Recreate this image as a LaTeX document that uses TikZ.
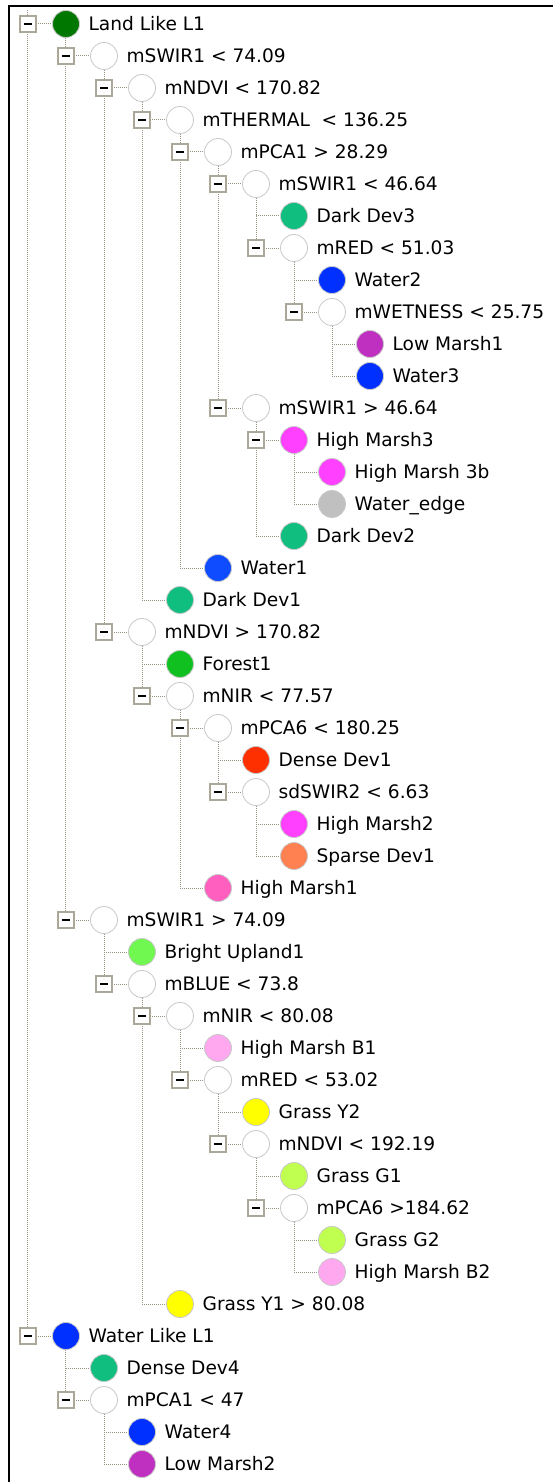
\documentclass[tikz,border=0pt]{standalone}
\usepackage{fontspec}
\setmainfont{DejaVu Sans}
\usepackage{tikz}
\usetikzlibrary{positioning,backgrounds}
\definecolor{landgreen}{RGB}{0,120,0}
\definecolor{devteal}{RGB}{16,190,128}
\definecolor{waterblue}{RGB}{0,48,255}
\definecolor{waterbright}{RGB}{16,76,255}
\definecolor{marshpurple}{RGB}{192,48,192}
\definecolor{marshmagenta}{RGB}{255,64,255}
\definecolor{edgegray}{RGB}{192,192,192}
\definecolor{forestgreen}{RGB}{16,192,32}
\definecolor{denseorange}{RGB}{255,48,0}
\definecolor{sparsecoral}{RGB}{255,128,80}
\definecolor{marshpink}{RGB}{255,96,192}
\definecolor{uplandgreen}{RGB}{112,248,80}
\definecolor{marshlight}{RGB}{255,168,240}
\definecolor{grassyellow}{RGB}{255,255,0}
\definecolor{grassgreen}{RGB}{192,255,80}
\definecolor{treeline}{RGB}{150,146,132}
\definecolor{boxrim}{RGB}{172,168,153}
\definecolor{knotrim}{RGB}{200,200,200}
\tikzstyle{knot}   = [circle, minimum size=27pt, inner sep=0pt, draw=knotrim, line width=0.8pt, fill=white]
\tikzstyle{toggle} = [rectangle, minimum size=16pt, inner sep=0pt, draw=boxrim, line width=1.6pt, fill=white, path picture={\draw[black, line width=2pt] ([xshift=-4pt]path picture bounding box.center) -- ([xshift=4pt]path picture bounding box.center);}]
\tikzstyle{lbl}    = [inner sep=0pt, text height=13.4pt, text depth=0pt, font=\fontsize{18.6}{20}\selectfont]
\tikzstyle{tline}  = [treeline, line width=1pt, dash pattern=on 1pt off 1pt]

\begin{document}
\begin{tikzpicture}[x=38pt, y=-32pt]
	\useasboundingbox (-66pt,24pt) rectangle (487pt,-1458pt);

	% first class: land like
	\node[knot, fill=landgreen] (landlike) at (0,0) {};
	\node[toggle] (landlikeBox) at (-1,0) {};
	\node[lbl, right=8.5pt of landlike] (landlikeText) {Land Like L1};
	\node[knot] (swirA) at (1,1) {};
	\node[toggle] (swirABox) at (0,1) {};
	\node[lbl, right=8.5pt of swirA] (swirAText) {mSWIR1 < 74.09};
	\node[knot] (ndviA) at (2,2) {};
	\node[toggle] (ndviABox) at (1,2) {};
	\node[lbl, right=8.5pt of ndviA] (ndviAText) {mNDVI < 170.82};
	\node[knot] (thermal) at (3,3) {};
	\node[toggle] (thermalBox) at (2,3) {};
	\node[lbl, right=8.5pt of thermal] (thermalText) {mTHERMAL\ \ < 136.25};
	\node[knot] (pcaA) at (4,4) {};
	\node[toggle] (pcaABox) at (3,4) {};
	\node[lbl, right=8.5pt of pcaA] (pcaAText) {mPCA1 > 28.29};
	\node[knot] (swirB) at (5,5) {};
	\node[toggle] (swirBBox) at (4,5) {};
	\node[lbl, right=8.5pt of swirB] (swirBText) {mSWIR1 < 46.64};
	\node[knot, fill=devteal] (darkdevC) at (6,6) {};
	\node[lbl, right=8.5pt of darkdevC] (darkdevCText) {Dark Dev3};
	\node[knot] (redA) at (6,7) {};
	\node[toggle] (redABox) at (5,7) {};
	\node[lbl, right=8.5pt of redA] (redAText) {mRED < 51.03};
	\node[knot, fill=waterblue] (waterB) at (7,8) {};
	\node[lbl, right=8.5pt of waterB] (waterBText) {Water2};
	\node[knot] (wetness) at (7,9) {};
	\node[toggle] (wetnessBox) at (6,9) {};
	\node[lbl, right=8.5pt of wetness] (wetnessText) {mWETNESS < 25.75};
	\node[knot, fill=marshpurple] (lowmarshA) at (8,10) {};
	\node[lbl, right=8.5pt of lowmarshA] (lowmarshAText) {Low Marsh1};
	\node[knot, fill=waterblue] (waterC) at (8,11) {};
	\node[lbl, right=8.5pt of waterC] (waterCText) {Water3};
	\node[knot] (swirC) at (5,12) {};
	\node[toggle] (swirCBox) at (4,12) {};
	\node[lbl, right=8.5pt of swirC] (swirCText) {mSWIR1 > 46.64};
	\node[knot, fill=marshmagenta] (highmarshC) at (6,13) {};
	\node[toggle] (highmarshCBox) at (5,13) {};
	\node[lbl, right=8.5pt of highmarshC] (highmarshCText) {High Marsh3};
	\node[knot, fill=marshmagenta] (highmarshCb) at (7,14) {};
	\node[lbl, right=8.5pt of highmarshCb] (highmarshCbText) {High Marsh 3b};
	\node[knot, fill=edgegray] (wateredge) at (7,15) {};
	\node[lbl, right=8.5pt of wateredge] (wateredgeText) {Water\_edge};
	\node[knot, fill=devteal] (darkdevB) at (6,16) {};
	\node[lbl, right=8.5pt of darkdevB] (darkdevBText) {Dark Dev2};
	\node[knot, fill=waterbright] (waterA) at (4,17) {};
	\node[lbl, right=8.5pt of waterA] (waterAText) {Water1};
	\node[knot, fill=devteal] (darkdevA) at (3,18) {};
	\node[lbl, right=8.5pt of darkdevA] (darkdevAText) {Dark Dev1};
	\node[knot] (ndviB) at (2,19) {};
	\node[toggle] (ndviBBox) at (1,19) {};
	\node[lbl, right=8.5pt of ndviB] (ndviBText) {mNDVI > 170.82};
	\node[knot, fill=forestgreen] (forest) at (3,20) {};
	\node[lbl, right=8.5pt of forest] (forestText) {Forest1};
	\node[knot] (nirA) at (3,21) {};
	\node[toggle] (nirABox) at (2,21) {};
	\node[lbl, right=8.5pt of nirA] (nirAText) {mNIR < 77.57};
	\node[knot] (pcasixA) at (4,22) {};
	\node[toggle] (pcasixABox) at (3,22) {};
	\node[lbl, right=8.5pt of pcasixA] (pcasixAText) {mPCA6 < 180.25};
	\node[knot, fill=denseorange] (densedevA) at (5,23) {};
	\node[lbl, right=8.5pt of densedevA] (densedevAText) {Dense Dev1};
	\node[knot] (sdswir) at (5,24) {};
	\node[toggle] (sdswirBox) at (4,24) {};
	\node[lbl, right=8.5pt of sdswir] (sdswirText) {sdSWIR2 < 6.63};
	\node[knot, fill=marshmagenta] (highmarshB) at (6,25) {};
	\node[lbl, right=8.5pt of highmarshB] (highmarshBText) {High Marsh2};
	\node[knot, fill=sparsecoral] (sparsedev) at (6,26) {};
	\node[lbl, right=8.5pt of sparsedev] (sparsedevText) {Sparse Dev1};
	\node[knot, fill=marshpink] (highmarshA) at (4,27) {};
	\node[lbl, right=8.5pt of highmarshA] (highmarshAText) {High Marsh1};
	\node[knot] (swirD) at (1,28) {};
	\node[toggle] (swirDBox) at (0,28) {};
	\node[lbl, right=8.5pt of swirD] (swirDText) {mSWIR1 > 74.09};
	\node[knot, fill=uplandgreen] (upland) at (2,29) {};
	\node[lbl, right=8.5pt of upland] (uplandText) {Bright Upland1};
	\node[knot] (blue) at (2,30) {};
	\node[toggle] (blueBox) at (1,30) {};
	\node[lbl, right=8.5pt of blue] (blueText) {mBLUE < 73.8};
	\node[knot] (nirB) at (3,31) {};
	\node[toggle] (nirBBox) at (2,31) {};
	\node[lbl, right=8.5pt of nirB] (nirBText) {mNIR < 80.08};
	\node[knot, fill=marshlight] (hmbA) at (4,32) {};
	\node[lbl, right=8.5pt of hmbA] (hmbAText) {High Marsh B1};
	\node[knot] (redB) at (4,33) {};
	\node[toggle] (redBBox) at (3,33) {};
	\node[lbl, right=8.5pt of redB] (redBText) {mRED < 53.02};
	\node[knot, fill=grassyellow] (grassYb) at (5,34) {};
	\node[lbl, right=8.5pt of grassYb] (grassYbText) {Grass Y2};
	\node[knot] (ndviC) at (5,35) {};
	\node[toggle] (ndviCBox) at (4,35) {};
	\node[lbl, right=8.5pt of ndviC] (ndviCText) {mNDVI < 192.19};
	\node[knot, fill=grassgreen] (grassGa) at (6,36) {};
	\node[lbl, right=8.5pt of grassGa] (grassGaText) {Grass G1};
	\node[knot] (pcasixB) at (6,37) {};
	\node[toggle] (pcasixBBox) at (5,37) {};
	\node[lbl, right=8.5pt of pcasixB] (pcasixBText) {mPCA6 >184.62};
	\node[knot, fill=grassgreen] (grassGb) at (7,38) {};
	\node[lbl, right=8.5pt of grassGb] (grassGbText) {Grass G2};
	\node[knot, fill=marshlight] (hmbB) at (7,39) {};
	\node[lbl, right=8.5pt of hmbB] (hmbBText) {High Marsh B2};
	\node[knot, fill=grassyellow] (grassYa) at (3,40) {};
	\node[lbl, right=8.5pt of grassYa] (grassYaText) {Grass Y1 > 80.08};

	% second class: water like
	\node[knot, fill=waterblue] (waterlike) at (0,41) {};
	\node[toggle] (waterlikeBox) at (-1,41) {};
	\node[lbl, right=8.5pt of waterlike] (waterlikeText) {Water Like L1};
	\node[knot, fill=devteal] (densedevB) at (1,42) {};
	\node[lbl, right=8.5pt of densedevB] (densedevBText) {Dense Dev4};
	\node[knot] (pcaB) at (1,43) {};
	\node[toggle] (pcaBBox) at (0,43) {};
	\node[lbl, right=8.5pt of pcaB] (pcaBText) {mPCA1 < 47};
	\node[knot, fill=waterblue] (waterD) at (2,44) {};
	\node[lbl, right=8.5pt of waterD] (waterDText) {Water4};
	\node[knot, fill=marshpurple] (lowmarshB) at (2,45) {};
	\node[lbl, right=8.5pt of lowmarshB] (lowmarshBText) {Low Marsh2};

	\coordinate (treetop) at (-1,-0.45);

	% dotted tree lines behind the knots
	\begin{scope}[on background layer]
		\draw[tline] (treetop) -- (treetop |- waterlike) (landlike -| treetop) -- (landlike) (waterlike -| treetop) -- (waterlike);
		\draw[tline] (landlike) -- (landlike |- swirD) (swirA -| landlike) -- (swirA) (swirD -| landlike) -- (swirD);
		\draw[tline] (swirA) -- (swirA |- ndviB) (ndviA -| swirA) -- (ndviA) (ndviB -| swirA) -- (ndviB);
		\draw[tline] (ndviA) -- (ndviA |- darkdevA) (thermal -| ndviA) -- (thermal) (darkdevA -| ndviA) -- (darkdevA);
		\draw[tline] (thermal) -- (thermal |- waterA) (pcaA -| thermal) -- (pcaA) (waterA -| thermal) -- (waterA);
		\draw[tline] (pcaA) -- (pcaA |- swirC) (swirB -| pcaA) -- (swirB) (swirC -| pcaA) -- (swirC);
		\draw[tline] (swirB) -- (swirB |- redA) (darkdevC -| swirB) -- (darkdevC) (redA -| swirB) -- (redA);
		\draw[tline] (redA) -- (redA |- wetness) (waterB -| redA) -- (waterB) (wetness -| redA) -- (wetness);
		\draw[tline] (wetness) -- (wetness |- waterC) (lowmarshA -| wetness) -- (lowmarshA) (waterC -| wetness) -- (waterC);
		\draw[tline] (swirC) -- (swirC |- darkdevB) (highmarshC -| swirC) -- (highmarshC) (darkdevB -| swirC) -- (darkdevB);
		\draw[tline] (highmarshC) -- (highmarshC |- wateredge) (highmarshCb -| highmarshC) -- (highmarshCb) (wateredge -| highmarshC) -- (wateredge);
		\draw[tline] (ndviB) -- (ndviB |- nirA) (forest -| ndviB) -- (forest) (nirA -| ndviB) -- (nirA);
		\draw[tline] (nirA) -- (nirA |- highmarshA) (pcasixA -| nirA) -- (pcasixA) (highmarshA -| nirA) -- (highmarshA);
		\draw[tline] (pcasixA) -- (pcasixA |- sdswir) (densedevA -| pcasixA) -- (densedevA) (sdswir -| pcasixA) -- (sdswir);
		\draw[tline] (sdswir) -- (sdswir |- sparsedev) (highmarshB -| sdswir) -- (highmarshB) (sparsedev -| sdswir) -- (sparsedev);
		\draw[tline] (swirD) -- (swirD |- blue) (upland -| swirD) -- (upland) (blue -| swirD) -- (blue);
		\draw[tline] (blue) -- (blue |- grassYa) (nirB -| blue) -- (nirB) (grassYa -| blue) -- (grassYa);
		\draw[tline] (nirB) -- (nirB |- redB) (hmbA -| nirB) -- (hmbA) (redB -| nirB) -- (redB);
		\draw[tline] (redB) -- (redB |- ndviC) (grassYb -| redB) -- (grassYb) (ndviC -| redB) -- (ndviC);
		\draw[tline] (ndviC) -- (ndviC |- pcasixB) (grassGa -| ndviC) -- (grassGa) (pcasixB -| ndviC) -- (pcasixB);
		\draw[tline] (pcasixB) -- (pcasixB |- hmbB) (grassGb -| pcasixB) -- (grassGb) (hmbB -| pcasixB) -- (hmbB);
		\draw[tline] (waterlike) -- (waterlike |- pcaB) (densedevB -| waterlike) -- (densedevB) (pcaB -| waterlike) -- (pcaB);
		\draw[tline] (pcaB) -- (pcaB |- lowmarshB) (waterD -| pcaB) -- (waterD) (lowmarshB -| pcaB) -- (lowmarshB);
	\end{scope}

	% window frame
	\draw[line width=2.5pt] (-57pt,-1458pt) -- (-57pt,18pt) -- (487pt,18pt);
\end{tikzpicture}
\end{document}
